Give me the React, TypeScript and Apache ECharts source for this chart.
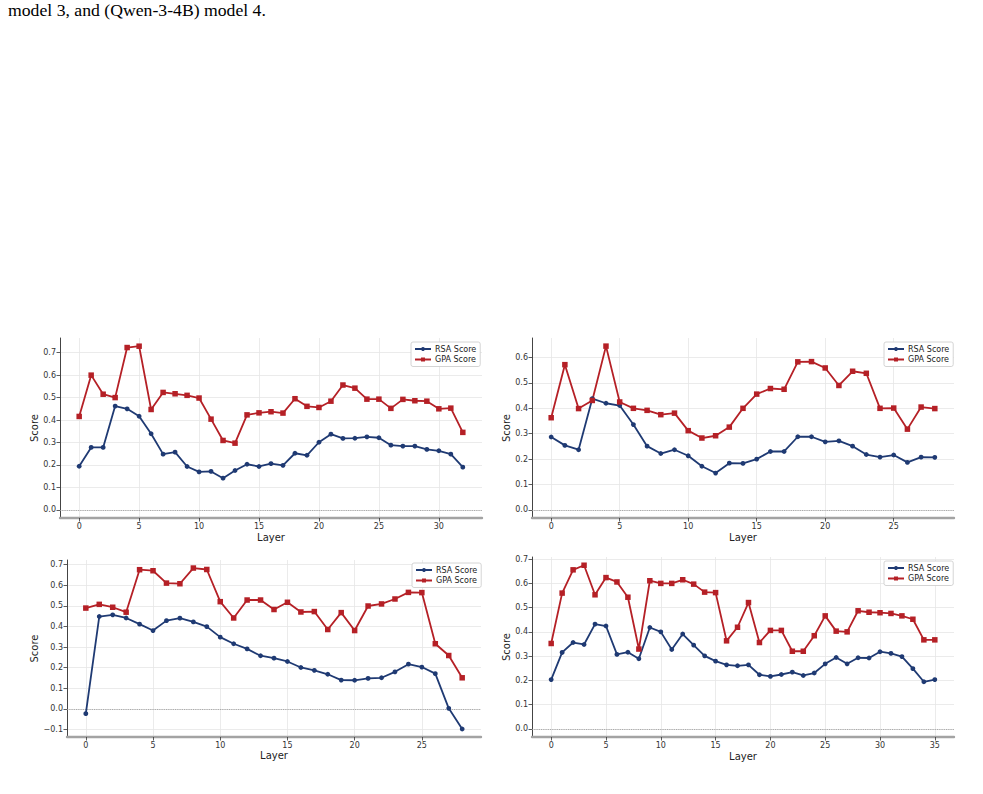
import React, { useEffect, useRef } from "react";
import * as echarts from "echarts";

// Per-layer scores for the four models
const rsaModel1 = [0.194, 0.278, 0.278, 0.462, 0.45, 0.417, 0.339, 0.248, 0.257, 0.193, 0.169, 0.171, 0.141, 0.175, 0.203, 0.193, 0.206, 0.198, 0.252, 0.243, 0.301, 0.337, 0.318, 0.319, 0.325, 0.321, 0.288, 0.284, 0.284, 0.269, 0.263, 0.248, 0.19];
const gpaModel1 = [0.416, 0.6, 0.515, 0.5, 0.723, 0.729, 0.447, 0.523, 0.517, 0.51, 0.498, 0.404, 0.309, 0.297, 0.423, 0.432, 0.437, 0.431, 0.495, 0.461, 0.456, 0.484, 0.556, 0.542, 0.493, 0.493, 0.452, 0.492, 0.486, 0.484, 0.45, 0.453, 0.345];

const rsaModel2 = [0.287, 0.254, 0.237, 0.438, 0.42, 0.411, 0.336, 0.251, 0.222, 0.237, 0.213, 0.172, 0.145, 0.184, 0.183, 0.2, 0.23, 0.23, 0.288, 0.288, 0.268, 0.272, 0.251, 0.218, 0.208, 0.216, 0.187, 0.208, 0.207];
const gpaModel2 = [0.363, 0.572, 0.399, 0.431, 0.645, 0.425, 0.4, 0.392, 0.375, 0.381, 0.312, 0.283, 0.292, 0.326, 0.4, 0.456, 0.478, 0.475, 0.583, 0.584, 0.559, 0.49, 0.546, 0.538, 0.4, 0.401, 0.318, 0.405, 0.399];

const rsaModel3 = [-0.023, 0.448, 0.456, 0.441, 0.411, 0.38, 0.428, 0.44, 0.422, 0.399, 0.348, 0.316, 0.291, 0.258, 0.246, 0.23, 0.201, 0.187, 0.168, 0.14, 0.139, 0.148, 0.151, 0.18, 0.217, 0.203, 0.171, 0.003, -0.097];
const gpaModel3 = [0.489, 0.507, 0.493, 0.469, 0.675, 0.67, 0.61, 0.607, 0.683, 0.676, 0.52, 0.441, 0.528, 0.528, 0.482, 0.517, 0.47, 0.472, 0.385, 0.467, 0.38, 0.499, 0.509, 0.533, 0.565, 0.564, 0.316, 0.259, 0.151];

const rsaModel4 = [0.203, 0.315, 0.356, 0.348, 0.432, 0.424, 0.307, 0.316, 0.289, 0.418, 0.4, 0.327, 0.391, 0.345, 0.301, 0.279, 0.264, 0.26, 0.264, 0.223, 0.216, 0.224, 0.234, 0.22, 0.23, 0.268, 0.294, 0.268, 0.293, 0.292, 0.318, 0.311, 0.298, 0.248, 0.194, 0.203];
const gpaModel4 = [0.352, 0.56, 0.656, 0.675, 0.553, 0.624, 0.606, 0.543, 0.329, 0.611, 0.6, 0.6, 0.615, 0.597, 0.564, 0.562, 0.363, 0.419, 0.521, 0.356, 0.406, 0.406, 0.32, 0.32, 0.384, 0.466, 0.403, 0.4, 0.487, 0.481, 0.479, 0.476, 0.466, 0.452, 0.367, 0.367];

// Tick labels
const xTicks1 = [0, 5, 10, 15, 20, 25, 30];
const xTicks2 = [0, 5, 10, 15, 20, 25];
const xTicks4 = [0, 5, 10, 15, 20, 25, 30, 35];
const yTicks1 = [0, 0.1, 0.2, 0.3, 0.4, 0.5, 0.6, 0.7];
const yTicks2 = [0, 0.1, 0.2, 0.3, 0.4, 0.5, 0.6];
const yTicks3 = [-0.1, 0, 0.1, 0.2, 0.3, 0.4, 0.5, 0.6, 0.7];

const CAPTION = "model 3, and (Qwen-3-4B) model 4.";
const RSA_NAME = "RSA Score";
const GPA_NAME = "GPA Score";

const BLUE = "#1f3a73";
const RED = "#b52026";
const FONT = "DejaVu Sans";

type Panel = {
  rsa: number[];
  gpa: number[];
  xTicks: number[];
  yTicks: number[];
  xRange: [number, number];
  yRange: [number, number];
  grid: { left: number; top: number; width: number; height: number };
  legend: { left: number; top: number };
  yNameGap: number;
  xNameGap: number;
};

const panels: Panel[] = [
  {
    rsa: rsaModel1, gpa: gpaModel1, xTicks: xTicks1, yTicks: yTicks1,
    xRange: [-1.6, 33.6], yRange: [-0.0365, 0.7655],
    grid: { left: 60, top: 338, width: 422, height: 180 },
    legend: { left: 411, top: 342 }, yNameGap: 16, xNameGap: 14,
  },
  {
    rsa: rsaModel2, gpa: gpaModel2, xTicks: xTicks2, yTicks: yTicks2,
    xRange: [-1.4, 29.4], yRange: [-0.032, 0.677],
    grid: { left: 532, top: 338, width: 422, height: 180 },
    legend: { left: 884, top: 342 }, yNameGap: 16, xNameGap: 14,
  },
  {
    rsa: rsaModel3, gpa: gpaModel3, xTicks: xTicks2, yTicks: yTicks3,
    xRange: [-1.4, 29.4], yRange: [-0.136, 0.722],
    grid: { left: 67, top: 560, width: 414, height: 177 },
    legend: { left: 412, top: 563 }, yNameGap: 22.5, xNameGap: 13.5,
  },
  {
    rsa: rsaModel4, gpa: gpaModel4, xTicks: xTicks4, yTicks: yTicks1,
    xRange: [-1.75, 36.75], yRange: [-0.034, 0.709],
    grid: { left: 532, top: 557, width: 422, height: 180 },
    legend: { left: 884, top: 561 }, yNameGap: 16, xNameGap: 14,
  },
];

const fmtY = (v: number) => {
  const r = Math.round(v * 10) / 10;
  return r < 0 ? "\u2212" + Math.abs(r).toFixed(1) : r.toFixed(1);
};

const splitLineStyle = { color: "#e6e6e6", width: 0.8 };

function buildOption(): echarts.EChartsOption {
  const grid: any[] = [];
  const xAxis: any[] = [];
  const yAxis: any[] = [];
  const series: any[] = [];
  const legend: any[] = [];

  panels.forEach((p, k) => {
    grid.push({ ...p.grid, containLabel: false });
    xAxis.push({
      gridIndex: k,
      type: "value",
      min: p.xRange[0],
      max: p.xRange[1],
      name: "Layer",
      nameLocation: "middle",
      nameGap: p.xNameGap,
      nameTextStyle: { fontFamily: FONT, fontSize: 10, color: "#222" },
      axisLine: { show: true, onZero: false, lineStyle: { color: "#a3a3a3", width: 2.4 } },
      axisTick: { show: true, customValues: p.xTicks, length: 3.5, lineStyle: { color: "#333", width: 0.8 } },
      axisLabel: {
        customValues: p.xTicks,
        fontFamily: FONT,
        fontSize: 8,
        color: "#333",
        margin: 4,
        formatter: (v: number) => String(Math.round(v)),
      },
      splitLine: { show: true, lineStyle: splitLineStyle },
    });
    yAxis.push({
      gridIndex: k,
      type: "value",
      min: p.yRange[0],
      max: p.yRange[1],
      name: "Score",
      nameLocation: "middle",
      nameGap: p.yNameGap,
      nameTextStyle: { fontFamily: FONT, fontSize: 10, color: "#222" },
      axisLine: { show: true, onZero: false, lineStyle: { color: "#444", width: 1 } },
      axisTick: { show: true, customValues: p.yTicks, length: 3.5, lineStyle: { color: "#333", width: 0.8 } },
      axisLabel: {
        customValues: p.yTicks,
        fontFamily: FONT,
        fontSize: 8,
        color: "#333",
        margin: 4,
        formatter: (v: number) => fmtY(v),
      },
      splitLine: { show: true, lineStyle: splitLineStyle },
    });
    series.push({
      type: "line",
      name: RSA_NAME,
      xAxisIndex: k,
      yAxisIndex: k,
      data: p.rsa.map((v, i) => [i, v]),
      symbol: "circle",
      symbolSize: 4.8,
      showSymbol: true,
      lineStyle: { color: BLUE, width: 1.8 },
      itemStyle: { color: BLUE },
      z: 4,
      markLine: {
        silent: true,
        symbol: ["none", "none"],
        label: { show: false },
        lineStyle: { color: "#9a9a9a", type: "dotted", width: 0.9 },
        data: [{ yAxis: 0 }],
        z: 1,
      },
    });
    series.push({
      type: "line",
      name: GPA_NAME,
      xAxisIndex: k,
      yAxisIndex: k,
      data: p.gpa.map((v, i) => [i, v]),
      symbol: "rect",
      symbolSize: 5.5,
      showSymbol: true,
      lineStyle: { color: RED, width: 1.8 },
      itemStyle: { color: RED },
      z: 4,
    });
    legend.push({
      left: p.legend.left,
      top: p.legend.top,
      orient: "vertical",
      data: [RSA_NAME, GPA_NAME],
      itemWidth: 16,
      itemHeight: 5,
      itemGap: 2.5,
      padding: [3, 4, 3, 3],
      backgroundColor: "#ffffff",
      borderColor: "#cfcfcf",
      borderWidth: 0.9,
      borderRadius: 2,
      textStyle: { fontFamily: FONT, fontSize: 8, color: "#222", padding: [0, 0, 0, -1] },
    });
  });

  return {
    animation: false,
    backgroundColor: "#ffffff",
    grid,
    xAxis,
    yAxis,
    series,
    legend,
    graphic: [
      {
        type: "text",
        left: 8,
        top: 1,
        style: {
          text: CAPTION,
          fontFamily: "Liberation Serif",
          fontSize: 17.7,
          fill: "#000",
        },
      },
    ],
  };
}

export default function App() {
  const ref = useRef<HTMLDivElement>(null);
  useEffect(() => {
    if (!ref.current) return;
    const chart = echarts.init(ref.current, undefined, { renderer: "svg" });
    chart.setOption(buildOption());
    return () => chart.dispose();
  }, []);
  return (
    <div
      ref={ref}
      style={{ position: "absolute", left: 0, top: 0, width: 983, height: 794, background: "#fff" }}
    />
  );
}
